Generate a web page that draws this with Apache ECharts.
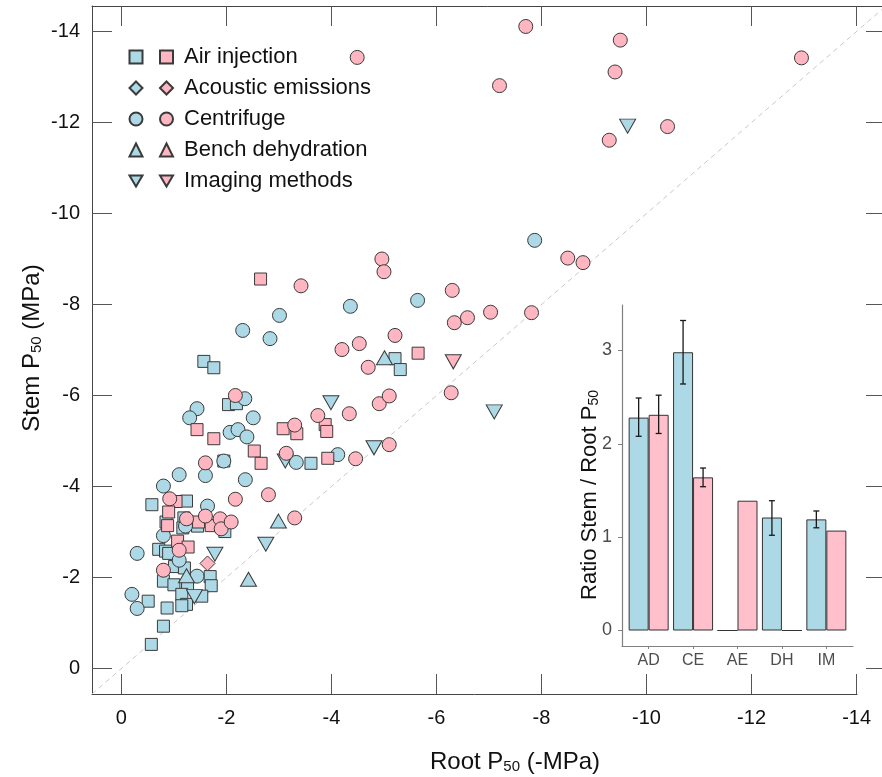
<!DOCTYPE html>
<html lang="en">
<head>
<meta charset="UTF-8">
<title>Stem vs root P50</title>
<script src="https://cdn.jsdelivr.net/npm/echarts@6/dist/echarts.min.js"></script>
<style>html,body{margin:0;padding:0;background:#fff}</style>
</head>
<body>
<div id="main" style="width:882px;height:777px"></div>
<script>
// axis ticks (MPa)
const pTicks = [0, -2, -4, -6, -8, -10, -12, -14];
const methods = ['Air injection', 'Acoustic emissions', 'Centrifuge', 'Bench dehydration', 'Imaging methods'];

// [root P50, stem P50]
const airBlue = [[-0.58,-3.60],[-1.24,-3.68],[-1.57,-6.75],[-1.76,-6.61],[-2.04,-5.80],[-2.19,-5.82],[-1.95,-4.56],[-3.61,-4.51],
  [-5.21,-6.81],[-5.31,-6.57],[-0.85,-3.22],[-1.19,-3.31],[-1.17,-3.09],[-1.45,-3.13],[-1.97,-3.01],[-0.71,-2.62],[-0.84,-2.58],
  [-0.90,-2.53],[-1.01,-2.24],[-1.20,-2.21],[-0.80,-1.92],[-1.00,-1.84],[-1.26,-1.81],[-1.69,-2.02],[-1.71,-1.82],[-1.15,-1.63],
  [-1.24,-1.41],[-1.15,-1.38],[-1.53,-1.59],[-0.51,-1.48],[-0.87,-1.33],[-0.80,-0.93],[-0.57,-0.53]];
const airPink = [[-2.65,-8.56],[-5.65,-6.93],[-1.44,-5.25],[-1.76,-5.05],[-3.08,-5.27],[-3.34,-5.16],[-3.88,-5.36],[-3.91,-5.21],
  [-2.53,-4.78],[-2.66,-4.51],[-3.93,-4.62],[-1.04,-3.67],[-0.90,-3.44],[-0.88,-3.14],[-1.47,-3.22],[-1.71,-3.14],[-1.07,-2.80],[-1.27,-2.67]];
const acousticBlue = [];
const acousticPink = [[-1.64,-2.31]];
const centBlue = [[-7.87,-9.41],[-4.36,-7.96],[-5.64,-8.09],[-3.01,-7.76],[-2.31,-7.43],[-2.83,-7.25],[-2.35,-5.93],[-2.51,-5.51],
  [-1.44,-5.71],[-1.30,-5.51],[-2.07,-5.19],[-2.22,-5.25],[-2.39,-5.09],[-4.12,-4.70],[-3.33,-4.53],[-1.95,-4.56],[-1.60,-4.24],
  [-1.10,-4.26],[-2.36,-4.15],[-0.80,-4.01],[-1.64,-3.57],[-1.22,-3.13],[-0.80,-2.92],[-0.30,-2.53],[-1.10,-2.38],[-1.44,-2.03],
  [-0.20,-1.63],[-0.30,-1.32]];
const centPink = [[-7.70,-14.11],[-9.50,-13.81],[-7.20,-12.81],[-9.40,-13.11],[-12.95,-13.42],[-9.29,-11.61],[-10.40,-11.91],[-4.49,-13.43],
  [-8.50,-9.02],[-8.79,-8.92],[-4.96,-9.00],[-5.00,-8.72],[-3.42,-8.41],[-6.30,-8.31],[-6.34,-7.60],[-6.59,-7.71],[-7.03,-7.83],
  [-7.81,-7.82],[-4.20,-7.01],[-4.53,-7.14],[-5.21,-7.32],[-4.70,-6.62],[-6.28,-6.06],[-3.74,-5.56],[-4.34,-5.60],[-4.91,-5.82],
  [-5.10,-5.99],[-4.46,-4.61],[-5.10,-4.92],[-2.17,-6.00],[-3.30,-5.35],[-3.14,-4.73],[-1.60,-4.52],[-2.80,-3.82],[-2.17,-3.72],
  [-0.92,-3.73],[-1.24,-3.29],[-1.60,-3.35],[-1.88,-3.29],[-1.90,-3.07],[-2.09,-3.22],[-3.30,-3.31],[-1.10,-2.60],[-0.80,-2.16]];
const benchBlue = [[-5.01,-6.83],[-2.99,-3.24],[-2.42,-1.96],[-1.24,-2.04]];
const benchPink = [];
const imagingBlue = [[-9.64,-11.92],[-7.10,-5.64],[-3.99,-5.84],[-4.81,-4.85],[-3.12,-4.56],[-1.78,-2.51],[-2.75,-2.73],[-1.39,-1.58]];
const imagingPink = [[-6.32,-6.74]];

// 1:1 line ends
const oneToOne = [[0.56, 0.56], [-14.56, -14.56]];

// inset: ratio stem / root
const ratioCats = ['AD', 'CE', 'AE', 'DH', 'IM'];
const ratioBlue = [2.28, 2.98, 0, 1.21, 1.19];
const ratioPink = [2.31, 1.64, 1.39, 0, 1.07];
const errBlue = [[1, 2.08, 2.49], [2, 2.64, 3.32], [4, 1.02, 1.39], [5, 1.10, 1.28]];
const errPink = [[1, 2.11, 2.52], [2, 1.54, 1.74]];

const blue = '#add8e6', pink = '#ffb6c1', barPink = '#ffc0cb', edge = '#3a3a3a';
const font = "'Liberation Sans', Arial, sans-serif";
const shapes = ['rect', 'diamond', 'circle', 'triangle', 'path://M0,0L20,0L10,17Z'];
const sizes = [12, 15, 14, [16, 14], [16, 14]];
const blueSets = [airBlue, acousticBlue, centBlue, benchBlue, imagingBlue];
const pinkSets = [airPink, acousticPink, centPink, benchPink, imagingPink];
const barW = 20;

let chart = echarts.init(document.getElementById('main'));

function pointSeries(name, data, i, color) {
    return {
        name: name, type: 'scatter', xAxisIndex: 0, yAxisIndex: 0,
        data: data, symbol: shapes[i], symbolSize: sizes[i], z: 3,
        itemStyle: {color: color, borderColor: edge, borderWidth: 1, opacity: 1},
        emphasis: {disabled: true}
    };
}

function errRender(side) {
    return function (params, api) {
        let lo = api.coord([api.value(0), api.value(1)]);
        let hi = api.coord([api.value(0), api.value(2)]);
        let x = lo[0] + side * barW / 2;
        let style = {stroke: '#1a1a1a', lineWidth: 1.3};
        return {
            type: 'group', children: [
                {type: 'line', shape: {x1: x, y1: lo[1], x2: x, y2: hi[1]}, style: style},
                {type: 'line', shape: {x1: x - 3, y1: lo[1], x2: x + 3, y2: lo[1]}, style: style},
                {type: 'line', shape: {x1: x - 3, y1: hi[1], x2: x + 3, y2: hi[1]}, style: style}
            ]
        };
    };
}

let series = [];
methods.forEach((m, i) => {
    series.push(pointSeries(m + ' (b)', blueSets[i], i, blue));
});
methods.forEach((m, i) => {
    series.push(pointSeries(m, pinkSets[i], i, pink));
});
series.push({
    type: 'line', xAxisIndex: 0, yAxisIndex: 0, data: oneToOne, symbol: 'none', silent: true, z: 1,
    lineStyle: {color: '#c8c8c8', width: 1, type: [5, 4]}
});
series.push({
    type: 'bar', xAxisIndex: 3, yAxisIndex: 3, data: ratioBlue.map((v, i) => [i + 1, v]),
    barWidth: barW, barGap: '0%', itemStyle: {color: blue, borderColor: '#333', borderWidth: 1}
});
series.push({
    type: 'bar', xAxisIndex: 3, yAxisIndex: 3, data: ratioPink.map((v, i) => [i + 1, v]),
    barWidth: barW, barGap: '0%', itemStyle: {color: barPink, borderColor: '#333', borderWidth: 1}
});
series.push({type: 'custom', xAxisIndex: 3, yAxisIndex: 3, data: errBlue, encode: {x: 0, y: [1, 2]}, renderItem: errRender(-1), z: 5});
series.push({type: 'custom', xAxisIndex: 3, yAxisIndex: 3, data: errPink, encode: {x: 0, y: [1, 2]}, renderItem: errRender(1), z: 5});

const frame = {color: '#444', width: 1};
const tick = {color: '#555', width: 1};
const legendBase = {
    orient: 'vertical', top: 40, itemWidth: 13, itemHeight: 13, itemGap: 7,
    selectedMode: false, textStyle: {fontSize: 22, lineHeight: 24, fontFamily: font, color: '#111'}
};

let option = {
    backgroundColor: '#fff',
    animation: false,
    textStyle: {fontFamily: font},
    grid: [
        {left: 92, right: -4, top: 6, bottom: 83, containLabel: false, outerBoundsMode: 'none'},
        {left: 622, right: 29, top: 305, bottom: 131, containLabel: false, outerBoundsMode: 'none'},
        {left: 92, right: 25, top: 6, bottom: 83, containLabel: false, outerBoundsMode: 'none'}
    ],
    legend: [
        Object.assign({}, legendBase, {left: 123.5, data: methods.map(m => m + ' (b)'), formatter: () => ' '}),
        Object.assign({}, legendBase, {left: 154, data: methods,
            textStyle: Object.assign({}, legendBase.textStyle, {padding: [0, 0, 0, 6]})})
    ],
    xAxis: [
        {gridIndex: 0, type: 'value', inverse: true, min: -14.56, max: 0.56, position: 'bottom',
            axisLine: {show: false, onZero: false},
            axisTick: {show: true, inside: true, length: 20, customValues: pTicks, lineStyle: tick},
            axisLabel: {customValues: pTicks, fontSize: 20, margin: 14, color: '#111', fontFamily: font},
            splitLine: {show: false}},
        {gridIndex: 0, type: 'value', inverse: true, min: -14.56, max: 0.56, position: 'top',
            axisLine: {show: true, onZero: false, lineStyle: frame},
            axisTick: {show: true, inside: true, length: 20, customValues: pTicks, lineStyle: tick},
            axisLabel: {show: false}, splitLine: {show: false}},
        {gridIndex: 2, type: 'value', min: 0, max: 1, position: 'bottom',
            axisLine: {show: true, onZero: false, lineStyle: frame}, axisTick: {show: false},
            axisLabel: {show: false}, splitLine: {show: false}},
        {gridIndex: 1, type: 'value', min: 0.4, max: 5.6, position: 'bottom',
            axisLine: {show: true, onZero: false, lineStyle: {color: '#808080', width: 1.2}},
            axisTick: {show: true, length: 3, customValues: [1, 2, 3, 4, 5], lineStyle: {color: '#808080'}},
            axisLabel: {customValues: [1, 2, 3, 4, 5], formatter: v => ratioCats[Math.round(v) - 1],
                fontSize: 16, color: '#4d4d4d', margin: 7, fontFamily: font},
            splitLine: {show: false}}
    ],
    yAxis: [
        {gridIndex: 0, type: 'value', inverse: true, min: -14.56, max: 0.56, position: 'left',
            axisLine: {show: true, onZero: false, lineStyle: frame},
            axisTick: {show: true, inside: true, length: 20, customValues: pTicks, lineStyle: tick},
            axisLabel: {customValues: pTicks, fontSize: 20, margin: 12, color: '#111', fontFamily: font},
            splitLine: {show: false}},
        {gridIndex: 0, type: 'value', inverse: true, min: -14.56, max: 0.56, position: 'right',
            axisLine: {show: true, onZero: false, lineStyle: frame},
            axisTick: {show: true, inside: true, length: 20, customValues: pTicks, lineStyle: tick},
            axisLabel: {show: false}, splitLine: {show: false}},
        {gridIndex: 2, type: 'value', show: false, min: 0, max: 1},
        {gridIndex: 1, type: 'value', min: -0.166, max: 3.486, position: 'left',
            axisLine: {show: true, onZero: false, lineStyle: {color: '#808080', width: 1.2}},
            axisTick: {show: true, length: 4, customValues: [0, 1, 2, 3], lineStyle: {color: '#808080'}},
            axisLabel: {customValues: [0, 1, 2, 3], fontSize: 18, color: '#4d4d4d', margin: 10, fontFamily: font},
            splitLine: {show: false}}
    ],
    graphic: [
        {type: 'text', x: 30, y: 348, rotation: Math.PI / 2,
            style: {text: '{a|Stem P}{s|50}{a| (MPa)}', align: 'center', verticalAlign: 'middle',
                rich: {a: {fontSize: 24, fontFamily: font, fill: '#111', lineHeight: 28, verticalAlign: 'bottom'},
                    s: {fontSize: 15, fontFamily: font, fill: '#111', lineHeight: 15, verticalAlign: 'top', padding: [13, 0, 0, 0]}}}},
        {type: 'text', x: 515, y: 760,
            style: {text: '{a|Root P}{s|50}{a| (-MPa)}', align: 'center', verticalAlign: 'middle',
                rich: {a: {fontSize: 24, fontFamily: font, fill: '#111', lineHeight: 28, verticalAlign: 'bottom'},
                    s: {fontSize: 15, fontFamily: font, fill: '#111', lineHeight: 15, verticalAlign: 'top', padding: [13, 0, 0, 0]}}}},
        {type: 'text', x: 588, y: 495, rotation: Math.PI / 2,
            style: {text: '{a|Ratio Stem / Root P}{s|50}', align: 'center', verticalAlign: 'middle',
                rich: {a: {fontSize: 22, fontFamily: font, fill: '#111', lineHeight: 26, verticalAlign: 'bottom'},
                    s: {fontSize: 14, fontFamily: font, fill: '#111', lineHeight: 14, verticalAlign: 'top', padding: [12, 0, 0, 0]}}}}
    ],
    series: series
};
chart.setOption(option);
</script>
</body>
</html>
